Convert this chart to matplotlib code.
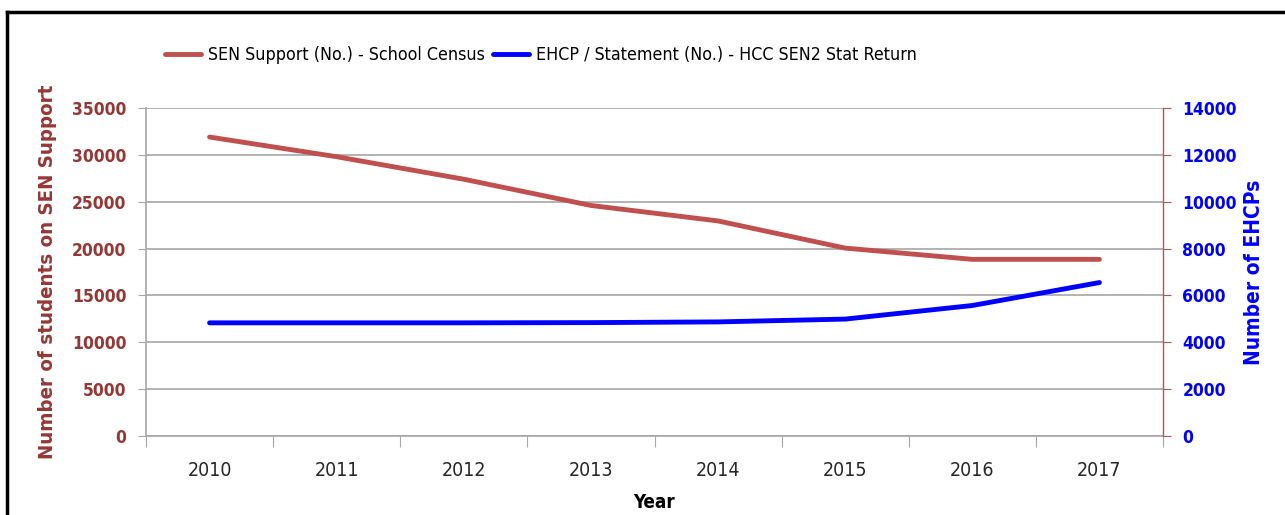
import matplotlib
matplotlib.use("Agg")
import matplotlib.pyplot as plt
from matplotlib.lines import Line2D
from matplotlib import font_manager

# dados
anos = ["2010", "2011", "2012", "2013", "2014", "2015", "2016", "2017"]
sen_support = [31900, 29800, 27400, 24600, 22950, 20050, 18850, 18850]
ehcp = [4830, 4830, 4830, 4840, 4870, 4990, 5570, 6550]

# fonte estreita (parecida com Calibri) se houver
condensada = [f for f in font_manager.fontManager.ttflist
              if f.name == "DejaVu Sans" and "condensed" in str(f.stretch)]
plt.rcParams["font.family"] = ["DejaVu Sans"]
if condensada:
    plt.rcParams["font.stretch"] = "condensed"
    k = 1.0
else:
    k = 0.85

vermelho = "#C0504D"
vermelho_escuro = "#953735"
azul = "#0000FF"
cinza = "#A6A6A6"

fig = plt.figure(figsize=(12.85, 5.15), dpi=100)
ax = fig.add_axes([146 / 1285, 1 - 436 / 515, (1163 - 146) / 1285, (436 - 108) / 515])
ax2 = ax.twinx()

x = list(range(len(anos)))
l1, = ax.plot(x, sen_support, color=vermelho, lw=3.5, solid_capstyle="round")
l2, = ax2.plot(x, ehcp, color=azul, lw=3.5, solid_capstyle="round")

ax.set_xlim(-0.5, len(anos) - 0.5)
ax.set_ylim(0, 35000)
ax2.set_ylim(0, 14000)
ax.set_yticks(range(0, 35001, 5000))
ax2.set_yticks(range(0, 14001, 2000))

ax.set_xticks([i - 0.5 for i in range(len(anos) + 1)])
ax.set_xticklabels([])
ax.set_xticks(x, minor=True)
ax.set_xticklabels(anos, minor=True, fontsize=14 * k, color="#262626")
ax.tick_params(axis="x", which="major", length=8, color=cinza, direction="out")
ax.tick_params(axis="x", which="minor", length=0, pad=18)

ax.grid(axis="y", color=cinza, lw=1.2)
ax.set_axisbelow(True)

for t in ax.get_yticklabels():
    t.set_fontweight("bold")
ax.tick_params(axis="y", labelsize=12.5 * k, labelcolor=vermelho_escuro, color=cinza, length=6, pad=8)
for t in ax2.get_yticklabels():
    t.set_fontweight("bold")
ax2.tick_params(axis="y", labelsize=12.5 * k, labelcolor=azul, color=vermelho, length=6, pad=8)

for lado in ["top", "right"]:
    ax.spines[lado].set_visible(False)
ax.spines["left"].set_color(cinza)
ax.spines["bottom"].set_color(cinza)
ax.spines["left"].set_linewidth(1.2)
ax.spines["bottom"].set_linewidth(1.2)
for lado in ["top", "left", "bottom"]:
    ax2.spines[lado].set_visible(False)
ax2.spines["right"].set_color(vermelho)
ax2.spines["right"].set_linewidth(1)

ax.set_ylabel("Number of students on SEN Support", fontsize=14.7 * k, fontweight="bold",
              color=vermelho_escuro, labelpad=11)
ax2.set_ylabel("Number of EHCPs", fontsize=15 * k, fontweight="bold", color=azul, labelpad=5)
ax.set_xlabel("Year", fontsize=13.5 * k, fontweight="bold", color="black", labelpad=9)

fig.legend([l1, l2],
           ["SEN Support (No.) - School Census", "EHCP / Statement (No.) - HCC SEN2 Stat Return"],
           loc="center left", bbox_to_anchor=(165 / 1285, 1 - 55 / 515), ncol=2,
           frameon=False, fontsize=12.8 * k, handlelength=2.0, handletextpad=0.4,
           columnspacing=0.5, borderaxespad=0, borderpad=0)

# moldura
fig.add_artist(Line2D([7 / 1285, 1], [1 - 12 / 515, 1 - 12 / 515], color="black", lw=2.5,
                      transform=fig.transFigure))
fig.add_artist(Line2D([7 / 1285, 7 / 1285], [0, 1 - 12 / 515], color="black", lw=2.5,
                      transform=fig.transFigure))

fig.savefig("out.png", dpi=100)
